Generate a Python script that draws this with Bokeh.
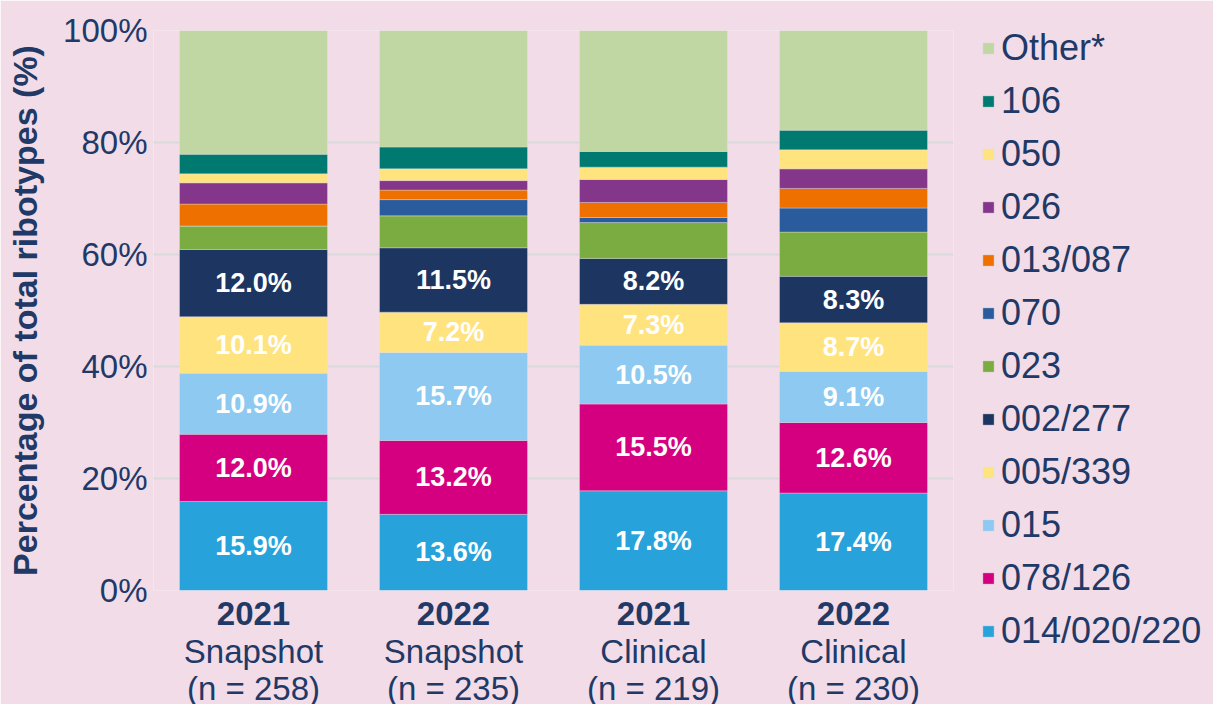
from bokeh.plotting import figure
from bokeh.models import (ColumnDataSource, Legend, LegendItem,
                          PrintfTickFormatter, FixedTicker, Range1d, FactorRange)
from bokeh.embed import file_html
from bokeh.resources import INLINE
from bokeh.core.properties import value

# ---------------- data ----------------
years = ["2021", "2022", "2021", "2022"]
groups = ["Snapshot\n(n = 258)", "Snapshot\n(n = 235)", "Clinical\n(n = 219)", "Clinical\n(n = 230)"]

ribotypes = ["014/020/220", "078/126", "015", "005/339", "002/277", "023",
             "070", "013/087", "026", "050", "106", "Other*"]

r014_020_220 = [15.9, 13.6, 17.8, 17.4]
r078_126 = [12.0, 13.2, 15.5, 12.6]
r015 = [10.9, 15.7, 10.5, 9.1]
r005_339 = [10.1, 7.2, 7.3, 8.7]
r002_277 = [12.0, 11.5, 8.2, 8.3]
r023 = [4.2, 5.7, 6.4, 7.9]
r070 = [0.0, 2.9, 0.9, 4.3]
r013_087 = [3.9, 1.7, 2.7, 3.5]
r026 = [3.8, 1.7, 4.1, 3.5]
r050 = [1.6, 2.1, 2.2, 3.4]
r106 = [3.5, 3.9, 2.8, 3.5]
other = [22.1, 20.8, 21.6, 17.8]

series = [r014_020_220, r078_126, r015, r005_339, r002_277, r023,
          r070, r013_087, r026, r050, r106, other]
labelled_count = 5

y_ticks = [0, 20, 40, 60, 80, 100]

# ---------------- styles ----------------
colors = ["#27a2db", "#d5007f", "#8dc9f0", "#ffe37f", "#1d3561", "#7aac41",
          "#2a5b9d", "#ee7100", "#84378a", "#ffe37f", "#007a71", "#c0d7a4"]
BG = "#f2dce8"
NAVY = "#213966"
FONT = "Liberation Sans"

factors = [(g, y) for g, y in zip(groups, years)]
keys = ["s%d" % i for i in range(len(series))]
data = {"cat": factors}
for k, s in zip(keys, series):
    data[k] = s
src = ColumnDataSource(data)

p = figure(x_range=FactorRange(factors=factors, group_padding=0, factor_padding=0, range_padding=0),
           y_range=Range1d(0, 100),
           frame_width=800, frame_height=560, output_backend="svg", toolbar_location=None,
           min_border_left=153, min_border_right=260, min_border_top=30, min_border_bottom=114)
p.background_fill_color = BG
p.border_fill_color = BG
p.outline_line_color = None

renderers = p.vbar_stack(keys, x="cat", width=0.74, color=colors, source=src,
                         line_color="#e6e6e6", line_alpha=0.35, line_width=1)

# data labels
lx, ly, lt = [], [], []
for ci, c in enumerate(factors):
    bottom = 0.0
    for si in range(labelled_count):
        v = series[si][ci]
        lx.append(c)
        ly.append(bottom + v / 2.0)
        lt.append("%.1f%%" % v)
        bottom += v
lsrc = ColumnDataSource(dict(x=lx, y=ly, t=lt))
p.text(x="x", y="y", text="t", source=lsrc, text_align="center", text_baseline="middle",
       text_color="white", text_font=value(FONT), text_font_style="bold",
       text_font_size="27px")

# y axis
p.yaxis.ticker = FixedTicker(ticks=y_ticks)
p.yaxis.formatter = PrintfTickFormatter(format="%d%%")
p.yaxis.axis_line_color = None
p.yaxis.major_tick_line_color = None
p.yaxis.minor_tick_line_color = None
p.yaxis.major_label_standoff = 0
p.yaxis.major_label_text_font = FONT
p.yaxis.major_label_text_font_size = "33px"
p.yaxis.major_label_text_color = NAVY
p.yaxis.axis_label = "Percentage of total ribotypes (%)"
p.yaxis.axis_label_text_font = FONT
p.yaxis.axis_label_text_font_size = "34px"
p.yaxis.axis_label_text_font_style = "bold"
p.yaxis.axis_label_text_color = NAVY
p.yaxis.axis_label_standoff = 16

p.ygrid.grid_line_color = "#d9d9d9"
p.ygrid.grid_line_width = 2
p.xgrid.grid_line_color = None

# x axis (nested: year on top, group below)
xa = p.xaxis[0]
xa.axis_line_color = None
xa.major_tick_line_color = None
xa.separator_line_color = None
xa.major_label_standoff = 5
xa.major_label_text_font = FONT
xa.major_label_text_font_size = "33px"
xa.major_label_text_font_style = "bold"
xa.major_label_text_color = NAVY
xa.group_text_font = FONT
xa.group_text_font_size = "33px"
xa.group_text_font_style = "normal"
xa.group_text_color = NAVY
xa.group_text_line_height = 1.0
xa.group_label_orientation = "horizontal"

# legend
items = [LegendItem(label=name, renderers=[r]) for name, r in zip(ribotypes, renderers)][::-1]
legend = Legend(items=items, location=(28, -62), glyph_width=14, glyph_height=14,
                label_text_font=FONT, label_text_font_size="36px", label_text_color=NAVY,
                label_height=40, spacing=11, padding=0, margin=0, label_standoff=6,
                background_fill_alpha=0, border_line_color=None)
p.add_layout(legend, "right")

open("out.html", "w").write(file_html(p, INLINE))
